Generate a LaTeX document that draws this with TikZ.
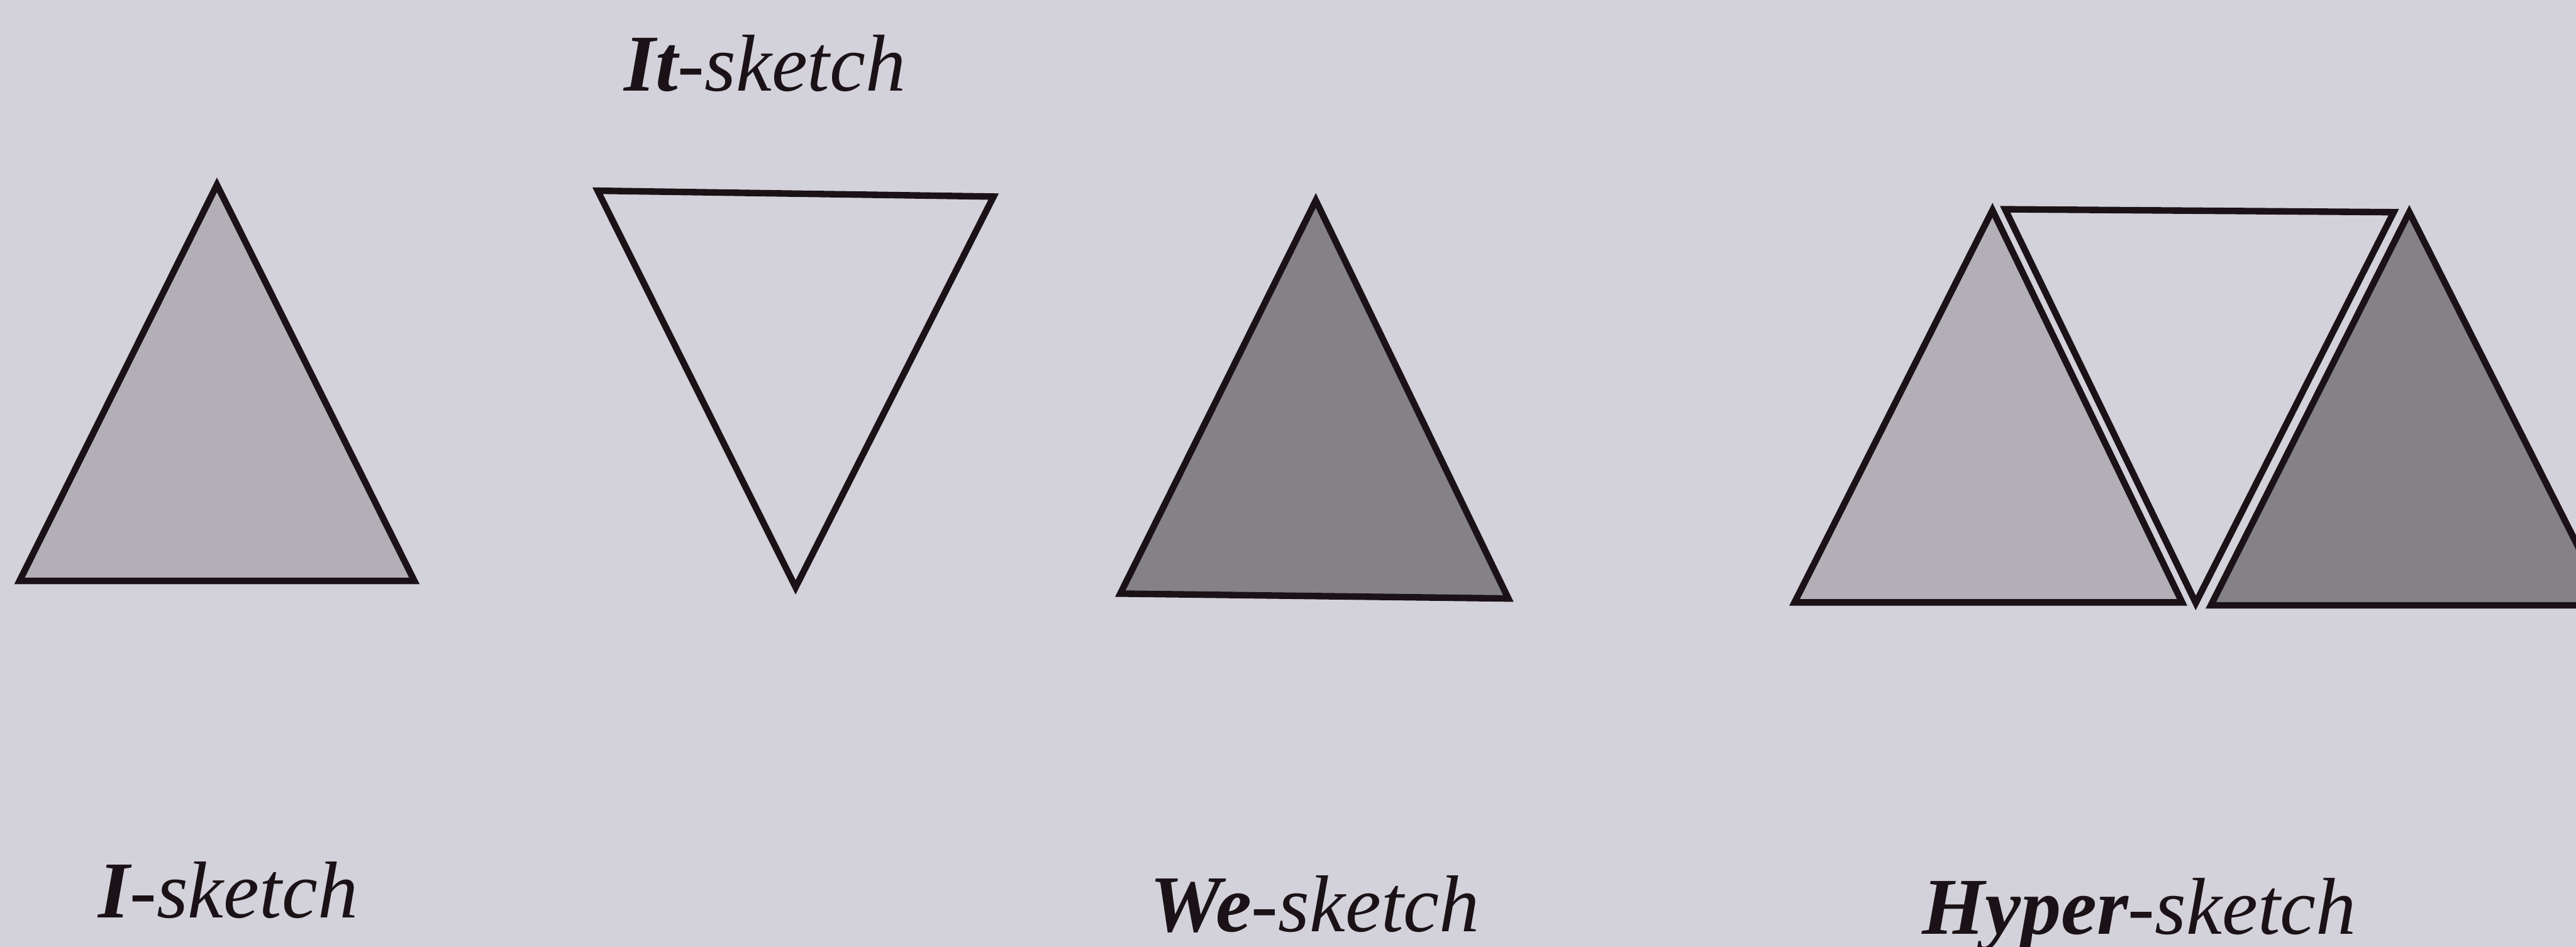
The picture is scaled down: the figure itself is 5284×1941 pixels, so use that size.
\documentclass[tikz,border=0pt]{standalone}
\usepackage{fontspec}
\setmainfont{Liberation Serif}
\definecolor{bgc}{RGB}{211,209,217}
\definecolor{lightfill}{RGB}{178,176,182}
\definecolor{darkfill}{RGB}{132,130,135}
\definecolor{inkc}{RGB}{26,18,22}
\tikzset{
  tri/.style={draw=inkc, line width=3.8pt, line join=miter},
  lbl/.style={anchor=base west, inner sep=0pt, outer sep=0pt, text=inkc, font=\fontsize{47}{56}\selectfont\itshape}
}
\begin{document}
\begin{tikzpicture}[x=0.01cm,y=-0.01cm]
\useasboundingbox (0,0) rectangle (5284,1941);
\fill[bgc] (0,0) rectangle (5284,1941);
\clip (0,0) rectangle (5284,1941);
% I-sketch
\draw[tri, fill=lightfill] (445,379) -- (850,1191) -- (40,1191) -- cycle;
% It-sketch
\draw[tri] (1226,391) -- (2038,403) -- (1632,1204) -- cycle;
% We-sketch
\draw[tri, fill=darkfill] (2699,411) -- (3094,1227) -- (2298,1217) -- cycle;
% Hyper-sketch
\draw[tri, fill=lightfill] (4087,431) -- (4476,1235) -- (3681,1235) -- cycle;
\draw[tri] (4113,429) -- (4910,435) -- (4504,1236) -- cycle;
\draw[tri, fill=darkfill] (4942,435) -- (5349,1241) -- (4535,1241) -- cycle;
% labels
\node[lbl] (it) at (1280,187) {\textbf{It}-sketch};
\node[lbl] (i) at (202,1882) {\textbf{I}-sketch};
\node[lbl] (we) at (2359,1910) {\textbf{We}-sketch};
\node[lbl] (hyper) at (3943,1915) {\textbf{Hyper}-sketch};
\end{tikzpicture}
\end{document}
